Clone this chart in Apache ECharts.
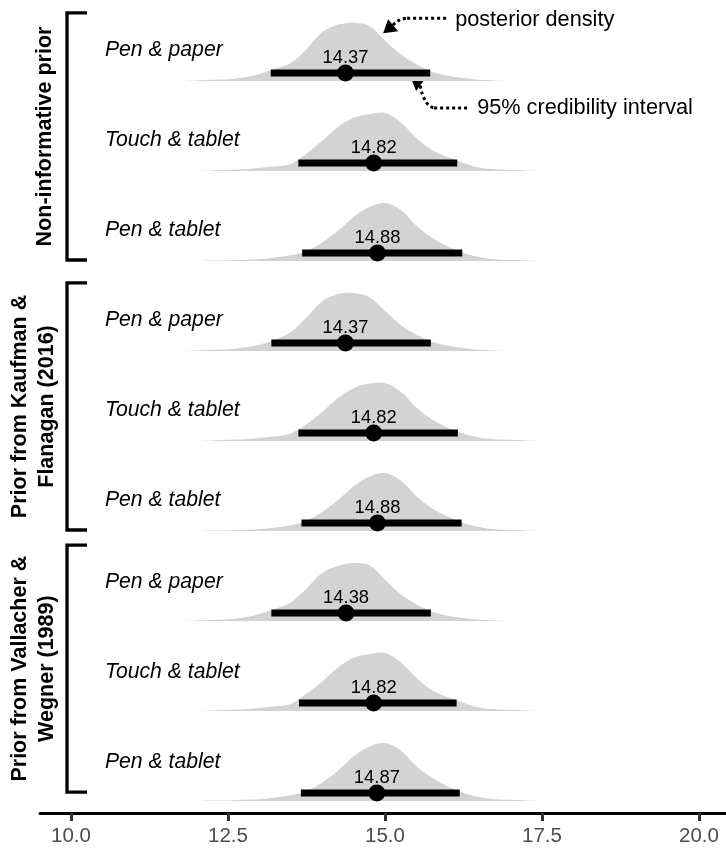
<!DOCTYPE html>
<html>
<head>
<meta charset="utf-8">
<script src="https://cdn.jsdelivr.net/npm/echarts@6/dist/echarts.min.js"></script>
<style>
  html, body { margin: 0; padding: 0; background: #ffffff; }
  #chart { width: 726px; height: 848px; }
</style>
</head>
<body>
<div id="chart"></div>
<script>
// ---- data ---------------------------------------------------------------
const priorGroups = ['Non-informative prior', 'Prior from Kaufman &\nFlanagan (2016)', 'Prior from Vallacher &\nWegner (1989)'];
const conditions = ['Pen & paper', 'Touch & tablet', 'Pen & tablet'];

// posterior medians (labelled) and 95% credibility intervals, rows top to bottom
const medians = [14.37, 14.82, 14.88, 14.37, 14.82, 14.88, 14.38, 14.82, 14.87];
const ciLow   = [13.18, 13.62, 13.68, 13.19, 13.62, 13.67, 13.19, 13.63, 13.66];
const ciHigh  = [15.72, 16.15, 16.23, 15.73, 16.16, 16.22, 15.73, 16.14, 16.19];

// posterior density (relative height) evaluated on a common grid
const densityGrid = [11.75, 12.0, 12.25, 12.5, 12.75, 13.0, 13.25, 13.5, 13.75, 14.0, 14.25, 14.5,
                     14.75, 15.0, 15.25, 15.5, 15.75, 16.0, 16.25, 16.5, 16.75, 17.0, 17.25, 17.5];
const densNoninfPaper   = [0, 0.01, 0.02, 0.03, 0.06, 0.12, 0.21, 0.31, 0.55, 0.84, 0.97, 1.00, 0.95, 0.70, 0.46, 0.29, 0.16, 0.09, 0.05, 0.02, 0.01, 0, 0, 0];
const densNoninfTouch   = [0, 0, 0.01, 0.02, 0.03, 0.05, 0.08, 0.12, 0.30, 0.52, 0.76, 0.92, 0.98, 1.00, 0.84, 0.57, 0.36, 0.24, 0.14, 0.06, 0.03, 0.02, 0.01, 0];
const densNoninfTablet  = [0, 0, 0.01, 0.01, 0.02, 0.03, 0.06, 0.10, 0.17, 0.32, 0.52, 0.76, 0.93, 1.00, 0.88, 0.61, 0.40, 0.25, 0.14, 0.07, 0.03, 0.02, 0.01, 0];
const densKaufPaper     = [0, 0.01, 0.02, 0.03, 0.06, 0.11, 0.20, 0.33, 0.58, 0.86, 0.98, 1.00, 0.93, 0.69, 0.45, 0.28, 0.16, 0.09, 0.05, 0.02, 0.01, 0, 0, 0];
const densKaufTouch     = [0, 0, 0.01, 0.02, 0.03, 0.05, 0.08, 0.13, 0.29, 0.50, 0.74, 0.91, 0.99, 1.00, 0.85, 0.58, 0.37, 0.23, 0.13, 0.06, 0.03, 0.02, 0.01, 0];
const densKaufTablet    = [0, 0, 0.01, 0.01, 0.02, 0.03, 0.06, 0.10, 0.18, 0.33, 0.53, 0.77, 0.94, 1.00, 0.87, 0.60, 0.39, 0.25, 0.14, 0.07, 0.03, 0.02, 0.01, 0];
const densVallPaper     = [0, 0.01, 0.02, 0.03, 0.06, 0.12, 0.21, 0.32, 0.56, 0.83, 0.95, 1.00, 0.96, 0.71, 0.46, 0.29, 0.16, 0.09, 0.05, 0.02, 0.01, 0, 0, 0];
const densVallTouch     = [0, 0, 0.01, 0.02, 0.03, 0.05, 0.08, 0.12, 0.30, 0.51, 0.75, 0.92, 0.98, 1.00, 0.84, 0.57, 0.36, 0.24, 0.14, 0.06, 0.03, 0.02, 0.01, 0];
const densVallTablet    = [0, 0, 0.01, 0.01, 0.02, 0.03, 0.06, 0.10, 0.17, 0.32, 0.52, 0.77, 0.94, 1.00, 0.87, 0.60, 0.40, 0.25, 0.14, 0.07, 0.03, 0.02, 0.01, 0];

const xTicks = [10, 12.5, 15, 17.5, 20];

// ---- layout helpers -----------------------------------------------------
const densities = [densNoninfPaper, densNoninfTouch, densNoninfTablet,
                   densKaufPaper, densKaufTouch, densKaufTablet,
                   densVallPaper, densVallTouch, densVallTablet];
const nRows = densities.length;
const rowBase = i => nRows - 1 - i + 0.1333;   // ridge baseline, row 0 on top
const BAR_LIFT = 0.089;                        // interval sits slightly above the baseline
const RIDGE_H = 0.644;                         // height of a ridge peak in row units
const GROUP_NUDGE = [0, 0, 0.087];             // vertical nudge of each bracket block (row units)
const FONT = '"Liberation Sans", Arial, Helvetica, sans-serif';
const rowIndex = densities.map((d, i) => i);

const chart = echarts.init(document.getElementById('chart'), null, { renderer: 'canvas' });

const option = {
  animation: false,
  backgroundColor: '#ffffff',
  grid: { left: 40, right: 0, top: 3, bottom: 35 },
  xAxis: {
    type: 'value',
    min: 9.506,
    max: 20.43,
    splitLine: { show: false },
    axisLine: { show: true, lineStyle: { color: '#000000', width: 3 } },
    axisTick: { show: true, customValues: xTicks, length: 8, lineStyle: { color: '#333333', width: 3 } },
    axisLabel: {
      customValues: xTicks,
      formatter: v => Number(v).toFixed(1),
      fontSize: 20.5, color: '#4d4d4d', margin: 13, fontFamily: FONT
    }
  },
  yAxis: { type: 'value', min: 0, max: 9, show: false },
  series: [
    {
      // ridgeline densities
      type: 'custom',
      name: 'posterior density',
      data: rowIndex,
      encode: { x: -1, y: -1 },
      z: 1,
      renderItem: (params, api) => {
        const i = api.value(0);
        const d = densities[i];
        const base = rowBase(i);
        const pts = [api.coord([densityGrid[0], base])];
        d.forEach((h, k) => pts.push(api.coord([densityGrid[k], base + h * RIDGE_H])));
        pts.push(api.coord([densityGrid[densityGrid.length - 1], base]));
        return { type: 'polygon', shape: { points: pts, smooth: 0.35 }, style: { fill: '#d3d3d3' } };
      }
    },
    {
      // 95% credibility intervals
      type: 'custom',
      name: '95% credibility interval',
      data: rowIndex.map(i => [ciLow[i], ciHigh[i], i]),
      encode: { x: [0, 1], y: -1 },
      z: 2,
      renderItem: (params, api) => {
        const i = api.value(2);
        const y = rowBase(i) + BAR_LIFT;
        const a = api.coord([api.value(0), y]);
        const b = api.coord([api.value(1), y]);
        return { type: 'line', shape: { x1: a[0], y1: a[1], x2: b[0], y2: b[1] },
                 style: { stroke: '#000000', lineWidth: 7, lineCap: 'butt' } };
      }
    },
    {
      // posterior medians with value labels
      type: 'scatter',
      name: 'median',
      data: rowIndex.map(i => [medians[i], rowBase(i) + BAR_LIFT]),
      symbol: 'circle',
      symbolSize: 17,
      z: 3,
      itemStyle: { color: '#000000', opacity: 1 },
      label: {
        show: true, position: 'inside', offset: [0, -15],
        formatter: p => p.value[0].toFixed(2),
        fontSize: 18.4, color: '#000000', fontFamily: FONT
      }
    },
    {
      // condition names
      type: 'custom',
      name: 'conditions',
      data: rowIndex,
      encode: { x: -1, y: -1 },
      z: 4,
      renderItem: (params, api) => {
        const i = api.value(0);
        const p = api.coord([10.54, rowBase(i) + 0.345 + GROUP_NUDGE[Math.floor(i / 3)]]);
        return { type: 'text', x: p[0], y: p[1],
                 style: { text: conditions[i % conditions.length], fill: '#000000',
                          font: 'italic 21.2px ' + FONT,
                          textAlign: 'left', textVerticalAlign: 'middle', align: 'left', verticalAlign: 'middle' } };
      }
    }
  ]
};
chart.setOption(option);

// ---- group brackets, group titles and annotation arrows ----------------
const px = (x, y) => chart.convertToPixel({ gridIndex: 0 }, [x, y]);
const graphics = [];
const bracketX = px(9.936, 0)[0];
const stubX = px(10.255, 0)[0];
const titleX = [45, 33.5, 33.5];
priorGroups.forEach((g, gi) => {
  const top = px(0, rowBase(gi * 3) + 0.756 + GROUP_NUDGE[gi])[1];
  const bottom = px(0, rowBase(gi * 3 + 2) + 0.011 + GROUP_NUDGE[gi])[1];
  graphics.push({
    type: 'polyline',
    shape: { points: [[stubX, top], [bracketX, top], [bracketX, bottom], [stubX, bottom]] },
    style: { stroke: '#000000', lineWidth: 3.3, fill: null, lineJoin: 'miter' }
  });
  graphics.push({
    type: 'text', x: titleX[gi], y: (top + bottom) / 2, rotation: Math.PI / 2,
    style: { text: g, font: 'bold 21.5px ' + FONT, fill: '#000000', lineHeight: 27,
             textAlign: 'center', textVerticalAlign: 'middle', align: 'center', verticalAlign: 'middle' }
  });
});

// annotation: posterior density
const tip1 = px(14.97, rowBase(0) + 0.531);
const t1 = (dx, dy) => [tip1[0] + dx, tip1[1] + dy];
graphics.push({ type: 'polygon', shape: { points: [t1(0, 0), t1(5, -14), t1(15, -2)] }, style: { fill: '#000000' } });
graphics.push({ type: 'bezierCurve',
  shape: { x1: t1(10, -8)[0], y1: t1(10, -8)[1], cpx1: t1(14, -14)[0], cpy1: t1(14, -14)[1], x2: t1(24, -15)[0], y2: t1(24, -15)[1] },
  style: { stroke: '#000000', lineWidth: 3, lineDash: [3, 3], fill: null } });
graphics.push({ type: 'line', shape: { x1: t1(24, -15)[0], y1: t1(24, -15)[1], x2: t1(63, -15)[0], y2: t1(63, -15)[1] },
  style: { stroke: '#000000', lineWidth: 3, lineDash: [3, 3] } });
graphics.push({ type: 'text', x: t1(72, -13)[0], y: t1(72, -13)[1],
  style: { text: 'posterior density', font: '21.7px ' + FONT, fill: '#000000',
           textAlign: 'left', textVerticalAlign: 'middle', align: 'left', verticalAlign: 'middle' } });

// annotation: 95% credibility interval
const tip2 = px(ciHigh[0] - 0.32, rowBase(0) + BAR_LIFT - 0.033);
const t2 = (dx, dy) => [tip2[0] + dx, tip2[1] + dy];
graphics.push({ type: 'polygon', shape: { points: [t2(0, 0), t2(14, 4), t2(6, 15)] }, style: { fill: '#000000' } });
graphics.push({ type: 'bezierCurve',
  shape: { x1: t2(10, 9.5)[0], y1: t2(10, 9.5)[1], cpx1: t2(14, 30)[0], cpy1: t2(14, 30)[1], x2: t2(24, 32)[0], y2: t2(24, 32)[1] },
  style: { stroke: '#000000', lineWidth: 3, lineDash: [3, 3], fill: null } });
graphics.push({ type: 'line', shape: { x1: t2(24, 32)[0], y1: t2(24, 32)[1], x2: t2(60, 32)[0], y2: t2(60, 32)[1] },
  style: { stroke: '#000000', lineWidth: 3, lineDash: [3, 3] } });
graphics.push({ type: 'text', x: t2(67, 32)[0], y: t2(67, 32)[1],
  style: { text: '95% credibility interval', font: '21.7px ' + FONT, fill: '#000000',
           textAlign: 'left', textVerticalAlign: 'middle', align: 'left', verticalAlign: 'middle' } });

chart.setOption({ graphic: { elements: graphics } });
</script>
</body>
</html>
